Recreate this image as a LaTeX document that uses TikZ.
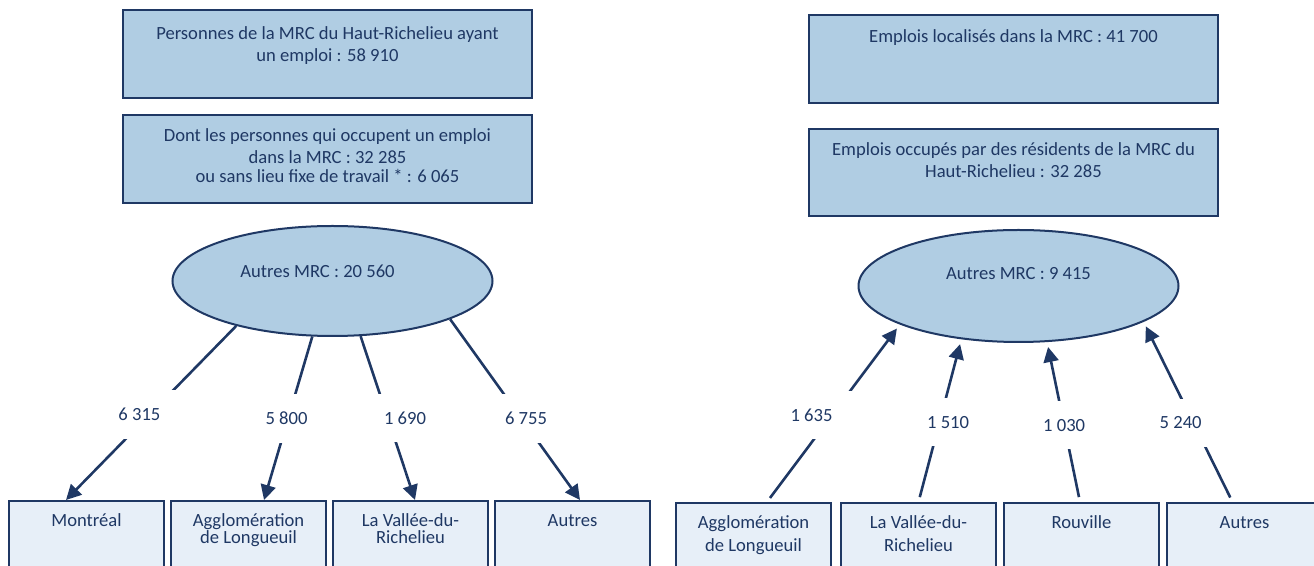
\documentclass[tikz,border=0pt]{standalone}
\usepackage{fontspec}
\setmainfont{Carlito}
\usepackage{tikz}
\usetikzlibrary{arrows.meta,shapes.geometric,positioning}
\definecolor{navy}{HTML}{1F3864}
\definecolor{mrcblue}{HTML}{B0CDE3}
\definecolor{paleblue}{HTML}{E7EFF8}

\begin{document}
\begin{tikzpicture}[x=0.5pt,y=-0.5pt,font=\fontsize{9.3}{11}\selectfont,text=navy,
	topbox/.style={rectangle,draw=navy,line width=1pt,fill=mrcblue,minimum width=204.5pt,align=center,inner ysep=6pt,text height=7pt,text depth=25pt},
	lowbox/.style={rectangle,draw=navy,line width=1pt,fill=paleblue,minimum width=77.5pt,align=center,inner ysep=6pt,text height=7pt,text depth=25pt},
	mrc/.style={ellipse,draw=navy,line width=1pt,fill=mrcblue,minimum width=160pt,minimum height=55pt,inner sep=0pt,text depth=10pt},
	lbl/.style={fill=white,inner xsep=10pt,inner ysep=9pt},
	conn/.style={draw=navy,line width=1.3pt,-{Triangle[length=7.5pt,width=7.5pt]}}]
	\useasboundingbox (0,0) rectangle (1314,566);
	\clip (0,0) rectangle (1314,566);
	% residents side
	\node[topbox,anchor=north,text height=20pt,text depth=12pt] (pers) at (327.5,9) {Personnes de la MRC du Haut-Richelieu ayant\\un emploi : 58 910};
	\node[topbox,text height=28pt,text depth=4pt] (dont) [below=7.5pt of pers] {Dont les personnes qui occupent un emploi\\dans la MRC : 32 285\\[-1.5pt]ou sans lieu fixe de travail * : 6 065};
	\node[mrc,xshift=2.5pt] (autmrc) [below=10.5pt of dont] {Autres MRC : 20 560\hspace*{15pt}};
	\node[lowbox,anchor=north] (mtl) at (86.5,500) {Montréal};
	\node[lowbox,text height=15.5pt,text depth=16.5pt] (lon) [right=2.5pt of mtl] {Agglomération\\[-2.5pt]de Longueuil};
	\node[lowbox,text height=15.5pt,text depth=16.5pt] (val) [right=2.5pt of lon] {La Vallée-du-\\[-2.5pt]Richelieu};
	\node[lowbox] (aut) [right=2.5pt of val] {Autres};
	\draw[conn] (autmrc.205) -- node[lbl,pos=.51,xshift=-5pt] (n6315) {6 315} ([xshift=-10.25pt]mtl.north);
	\draw[conn] (autmrc.250) -- node[lbl,pos=.5,xshift=-.8pt] (n5800) {5 800} ([xshift=7.75pt]lon.north);
	\draw[conn] (autmrc.297) -- node[lbl,pos=.5,xshift=8.6pt] (n1690) {1 690} ([xshift=2.25pt]val.north);
	\draw[conn] (autmrc.342) -- node[lbl,pos=.55,xshift=2.2pt] (n6755) {6 755} ([xshift=3.75pt]aut.north);
	% jobs side
	\node[topbox,anchor=north,text height=8pt,text depth=24pt] (empl) at (1013.5,14) {Emplois localisés dans la MRC : 41 700};
	\node[topbox,text height=18.5pt,text depth=13pt] (occ) [below=12pt of empl] {Emplois occupés par des résidents de la MRC du\\Haut-Richelieu : 32 285};
	\node[mrc,minimum height=56pt,xshift=2.5pt,text depth=13pt] (autmrc2) [below=6pt of occ] {Autres MRC : 9 415};
	\node[lowbox,anchor=north,text height=18.5pt,text depth=13.5pt] (lon2) at (753.5,502) {Agglomération\\[.5pt]de Longueuil};
	\node[lowbox,text height=18.5pt,text depth=13.5pt] (val2) [right=4pt of lon2] {La Vallée-du-\\[.5pt]Richelieu};
	\node[lowbox] (rou2) [right=3pt of val2] {Rouville};
	\node[lowbox] (aut2) [right=3pt of rou2] {Autres};
	\draw[conn,shorten <=2.5pt,shorten >=2.5pt] ([xshift=6.75pt]lon2.north) -- node[lbl,pos=.49,xshift=-10.3pt] (n1635) {1 635} (autmrc2.198);
	\draw[conn,shorten <=2.5pt,shorten >=2.5pt] (val2.north) -- node[lbl,pos=.49,xshift=4.3pt] (n1510) {1 510} (autmrc2.223);
	\draw[conn,shorten <=2.5pt,shorten >=2.5pt] ([xshift=-.75pt]rou2.north) -- node[lbl,pos=.48] (n1030) {1 030} (autmrc2.297);
	\draw[conn,shorten <=2.5pt,shorten >=2.5pt] ([xshift=-6pt]aut2.north) -- node[lbl,pos=.44,xshift=-6.35pt] (n5240) {5 240} (autmrc2.344);
\end{tikzpicture}
\end{document}
